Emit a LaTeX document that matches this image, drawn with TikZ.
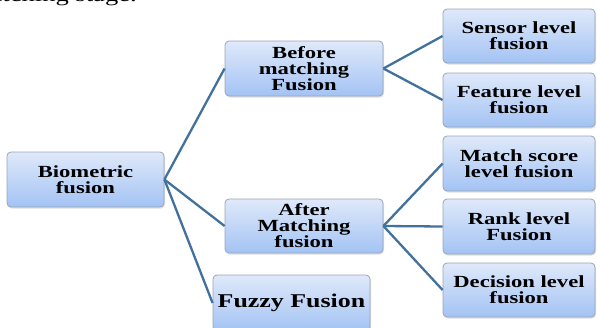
\documentclass[tikz,border=0pt]{standalone}
\usepackage{fontspec}
\setmainfont{Liberation Serif}[FakeStretch=1.33]
\usetikzlibrary{shadows}
\definecolor{linkblue}{HTML}{41719C}
\definecolor{boxtop}{HTML}{DFE9FA}
\definecolor{boxbot}{HTML}{A3C3F4}
\definecolor{boxedge}{HTML}{98A4B8}
\begin{document}
\begin{tikzpicture}[x=1pt,y=-1pt,
  sbox/.style={draw=boxedge, line width=0.8pt, rounded corners=4pt,
    top color=boxtop, bottom color=boxbot, inner sep=0pt, align=center,
    font=\fontsize{17}{16}\selectfont\bfseries,
    drop shadow={opacity=0.25, shadow xshift=1pt, shadow yshift=-1.5pt}},
  conn/.style={draw=linkblue, line width=2.3pt}]
\useasboundingbox (0,0) rectangle (597,327);
\node[anchor=base east, font=\fontsize{20}{20}\selectfont, inner sep=0pt] (caption) at (137,1) {matching stage.};
\node[sbox, minimum width=157pt, minimum height=55pt] (bio) at (85.5,179.5) {Biometric\\fusion};
\node[sbox, minimum width=158pt, minimum height=55pt] (before) at (304,68.5) {Before\\matching\\Fusion};
\node[sbox, minimum width=158pt, minimum height=54pt] (after) at (304,226) {After\\Matching\\fusion};
\node[sbox, minimum width=157pt, minimum height=56pt, font=\fontsize{19.5}{20}\selectfont\bfseries] (fuzzy) at (291.5,303) {Fuzzy Fusion};
\node[sbox, minimum width=152pt, minimum height=54pt] (sensor) at (519,36) {Sensor level\\fusion};
\node[sbox, minimum width=152pt, minimum height=54pt] (feature) at (519,100) {Feature level\\fusion};
\node[sbox, minimum width=152pt, minimum height=55pt] (match) at (519,163.5) {Match score\\level fusion};
\node[sbox, minimum width=152pt, minimum height=55pt] (rank) at (519,226.5) {Rank level\\Fusion};
\node[sbox, minimum width=152pt, minimum height=54pt] (decision) at (519,290) {Decision level\\fusion};
\draw[conn] (bio.east) -- (before.west);
\draw[conn] (bio.east) -- (after.west);
\draw[conn] (bio.east) -- (fuzzy.west);
\draw[conn] (before.east) -- (sensor.west);
\draw[conn] (before.east) -- (feature.west);
\draw[conn] (after.east) -- (match.west);
\draw[conn] (after.east) -- (rank.west);
\draw[conn] (after.east) -- (decision.west);
\end{tikzpicture}
\end{document}
